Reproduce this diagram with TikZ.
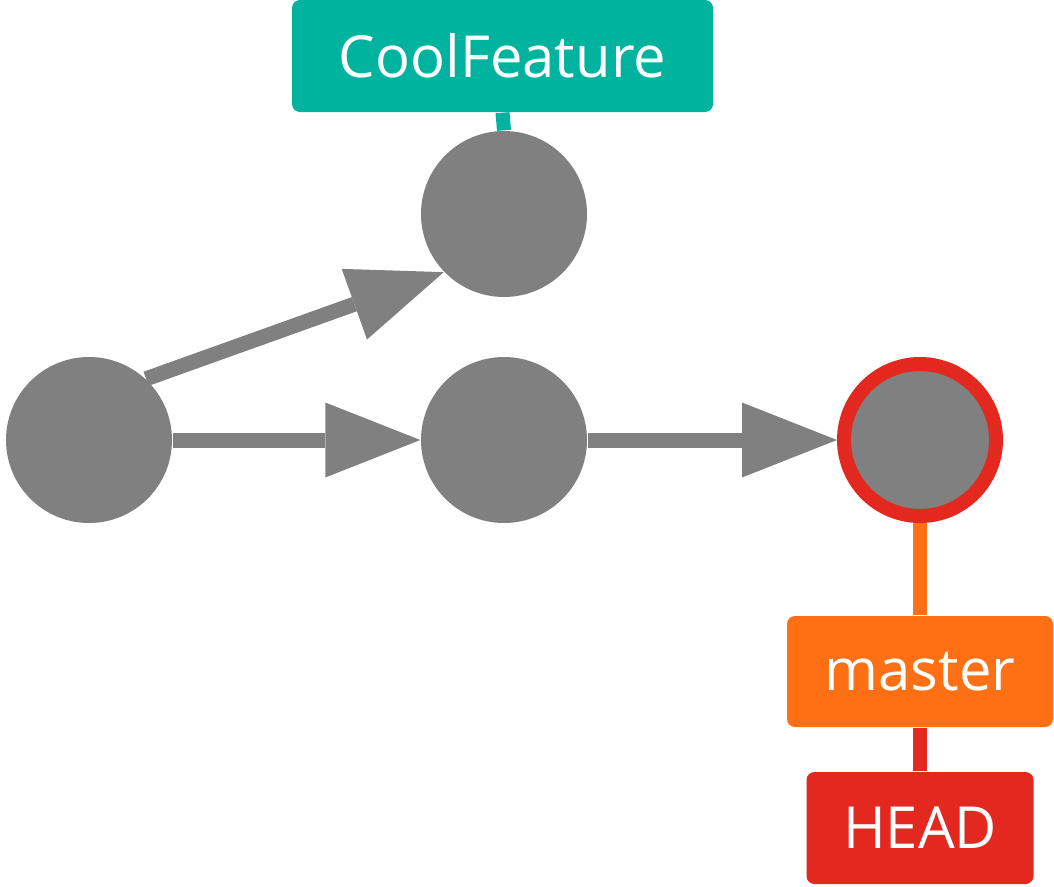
\documentclass[tikz,border=0pt]{standalone}
\usepackage{fontspec}
\setmainfont{Open Sans}
\usetikzlibrary{arrows.meta,positioning}

\definecolor{commitgray}{HTML}{808080}
\definecolor{branchteal}{HTML}{00B39F}
\definecolor{branchorange}{HTML}{FF6F13}
\definecolor{headred}{HTML}{E2281F}

\tikzset{
	commit/.style={circle,fill=commitgray,inner sep=0pt,minimum size=1.66cm},
	current/.style={commit,draw=headred,line width=0.14cm,minimum size=1.52cm},
	label/.style={rounded corners=0.08cm,text=white,inner sep=0pt,
		font=\fontsize{16.5}{20}\selectfont},
	parent/.style={commitgray,line width=0.15cm,
		-{Triangle[length=0.95cm,width=0.75cm,line width=0pt,fill=commitgray]}},
	ref/.style={line width=0.14cm}
}

\begin{document}
	\begin{tikzpicture}[x=1cm,y=1cm]
		\useasboundingbox (0,0) rectangle (10.54,-8.86);
		
		% commits
		\node[commit]  (c1) at (0.89,-4.40) {};
		\node[commit]  (c2) at (5.04,-2.14) {};
		\node[commit]  (c3) at (5.04,-4.40) {};
		\node[current] (c4) at (9.20,-4.40) {};
		
		% branch and head labels
		\node[label,fill=branchteal,minimum width=4.21cm,minimum height=1.12cm]
			(cool) at (5.025,-0.56) {CoolFeature};
		\node[label,fill=branchorange,minimum width=2.66cm,minimum height=1.11cm]
			(master) at (9.20,-6.715) {master};
		\node[label,fill=headred,minimum width=2.27cm,minimum height=1.12cm]
			(head) at (9.20,-8.28) {HEAD};
		
		\path
		(c1.47) edge[parent] (c2.224)
		(c1) edge[parent] (c3)
		(c3) edge[parent] (c4);
		
		\draw[ref,branchteal] (cool.south) -- (c2.north);
		\draw[ref,branchorange] (c4.south) -- (master.north);
		\draw[ref,headred] (master.south) -- (head.north);
		
	\end{tikzpicture}
\end{document}
